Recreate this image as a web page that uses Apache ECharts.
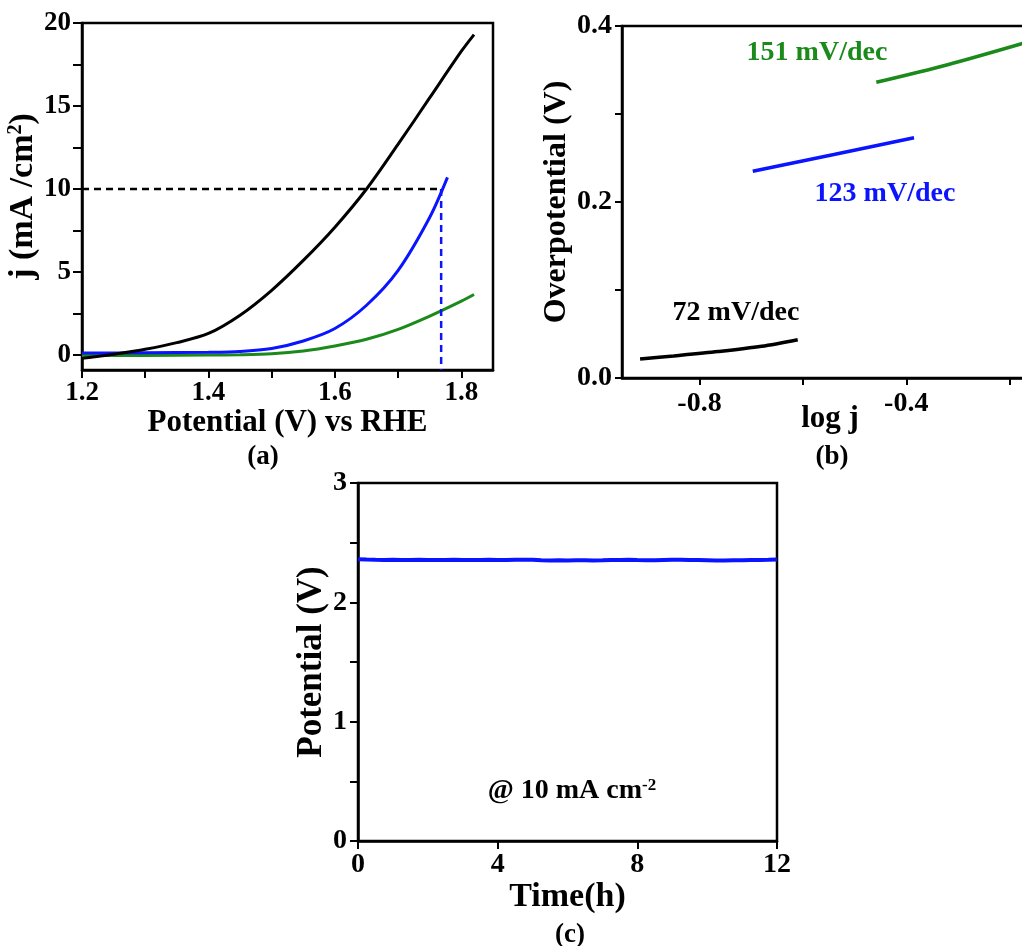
<!DOCTYPE html>
<html>
<head>
<meta charset="utf-8">
<script src="https://cdn.jsdelivr.net/npm/echarts@6/dist/echarts.min.js"></script>
<style>html,body{margin:0;padding:0;background:#fff}#c{width:1022px;height:946px}</style>
</head>
<body>
<div id="c"></div>
<script>
// ---------- Panel (a): LSV curves ----------
const potBlack = [1.20,1.22,1.25,1.30,1.35,1.40,1.45,1.50,1.55,1.60,1.65,1.70,1.75,1.80,1.82];
const jBlack   = [-0.2,-0.1,0.05,0.35,0.75,1.3,2.4,3.9,5.7,7.7,10.0,12.7,15.5,18.3,19.3];
const potBlue  = [1.20,1.30,1.40,1.45,1.50,1.55,1.60,1.65,1.70,1.75,1.778];
const jBlue    = [0.12,0.14,0.17,0.22,0.4,0.85,1.6,3.0,5.1,8.3,10.7];
const potGreen = [1.20,1.30,1.40,1.45,1.50,1.55,1.60,1.65,1.70,1.75,1.80,1.82];
const jGreen   = [-0.03,-0.02,0.0,0.02,0.08,0.25,0.55,0.95,1.55,2.35,3.25,3.65];
const refJ = 10;            // 10 mA/cm2 reference
const refPot = 1.768;       // potential at 10 mA/cm2
const aXTicks = [1.2,1.3,1.4,1.5,1.6,1.7,1.8];
const aXLabels = [1.2,1.4,1.6,1.8];
const aYTicks = [0,2.5,5,7.5,10,12.5,15,17.5,20];
const aYLabels = [0,5,10,15,20];

// ---------- Panel (b): Tafel ----------
const tBlackX = [-0.915,-0.85,-0.764,-0.68,-0.61];
const tBlackY = [0.0215,0.025,0.030,0.036,0.0435];
const tBlueX  = [-0.697,-0.54,-0.385];
const tBlueY  = [0.235,0.254,0.273];
const tGreenX = [-0.458,-0.32,-0.17];
const tGreenY = [0.336,0.356,0.381];
const tafelTexts = ['72 mV/dec','123 mV/dec','151 mV/dec'];
const bXTicks = [-0.8,-0.6,-0.4,-0.2,0];
const bXLabels = [-0.8,-0.4];
const bYTicks = [0,0.1,0.2,0.3,0.4];
const bYLabels = [0,0.2,0.4];

// ---------- Panel (c): stability ----------
const timeH = [0,0.25,0.5,0.75,1,1.25,1.5,1.75,2,2.25,2.5,2.75,3,3.25,3.5,3.75,4,4.25,4.5,4.75,5,5.25,5.5,5.75,6,6.25,6.5,6.75,7,7.25,7.5,7.75,8,8.25,8.5,8.75,9,9.25,9.5,9.75,10,10.25,10.5,10.75,11,11.25,11.5,11.75,12];
const potC = [2.362,2.358,2.356,2.355,2.356,2.355,2.354,2.356,2.355,2.354,2.355,2.356,2.355,2.354,2.355,2.356,2.355,2.354,2.356,2.357,2.356,2.353,2.351,2.352,2.350,2.352,2.353,2.351,2.352,2.354,2.355,2.356,2.354,2.353,2.352,2.354,2.356,2.357,2.355,2.354,2.352,2.350,2.351,2.353,2.352,2.354,2.355,2.356,2.358];
const cYTicks = [0,0.5,1,1.5,2,2.5,3];
const cYLabels = [0,1,2,3];
const cXLabels = [0,4,8,12];

const FONT = 'Liberation Serif';
const BLUE = '#0a14ff', GREEN = '#1b8a1b', BLACK = '#000';

function pairs(xs, ys){ return xs.map((x,i)=>[x, ys[i]]); }

function valueAxis(o){
  return Object.assign({
    type:'value',
    axisLine:{show:true, onZero:false, lineStyle:{color:'#000', width:2.5}},
    axisTick:{show:true, inside:false, length:8, lineStyle:{color:'#000', width:2}},
    splitLine:{show:false},
    axisLabel:{color:'#000', fontFamily:FONT, fontWeight:'bold', fontSize:27},
    nameTextStyle:{color:'#000', fontFamily:FONT, fontWeight:'bold', fontSize:31}
  }, o);
}

const chart = echarts.init(document.getElementById('c'), null, {renderer:'canvas'});
const lineBase = {type:'line', showSymbol:false, symbol:'none', animation:false, z:3};

chart.setOption({
  backgroundColor:'#fff',
  animation:false,
  grid:[
    {left:82, top:23, width:411, height:347, show:true, borderColor:'#000', borderWidth:2.5, backgroundColor:'transparent', outerBoundsMode:'none', containLabel:false},
    {left:622, top:26, width:491, height:352, show:true, borderColor:'#000', borderWidth:2.5, backgroundColor:'transparent', outerBoundsMode:'none', containLabel:false},
    {left:358, top:483, width:419, height:358, show:true, borderColor:'#000', borderWidth:2.5, backgroundColor:'transparent', outerBoundsMode:'none', containLabel:false}
  ],
  xAxis:[
    valueAxis({gridIndex:0, min:1.2, max:1.85,
      axisTick:{show:true, length:8, customValues:aXTicks, lineStyle:{color:'#000', width:2}},
      axisLabel:{color:'#000', fontFamily:FONT, fontWeight:'bold', fontSize:27, margin:10, customValues:aXLabels, formatter:v=>v.toFixed(1)},
      name:'Potential (V) vs RHE', nameLocation:'middle', nameGap:31}),
    valueAxis({gridIndex:1, min:-0.95, max:0,
      axisTick:{show:true, length:7, customValues:bXTicks, lineStyle:{color:'#000', width:2}},
      axisLabel:{color:'#000', fontFamily:FONT, fontWeight:'bold', fontSize:28, margin:12, customValues:bXLabels, formatter:v=>v.toFixed(1)}}),
    valueAxis({gridIndex:2, min:0, max:12,
      axisTick:{show:true, length:8, customValues:cXLabels, lineStyle:{color:'#000', width:2}},
      axisLabel:{color:'#000', fontFamily:FONT, fontWeight:'bold', fontSize:28, margin:10, customValues:cXLabels},
      name:'Time(h)', nameLocation:'middle', nameGap:33,
      nameTextStyle:{color:'#000', fontFamily:FONT, fontWeight:'bold', fontSize:34}})
  ],
  yAxis:[
    valueAxis({gridIndex:0, min:-0.9, max:20,
      axisTick:{show:true, length:9, customValues:aYTicks, lineStyle:{color:'#000', width:2}},
      axisLabel:{color:'#000', fontFamily:FONT, fontWeight:'bold', fontSize:27, margin:11, customValues:aYLabels},
      name:'j (mA /cm{sup|2})', nameLocation:'middle', nameGap:36,
      nameTextStyle:{color:'#000', fontFamily:FONT, fontWeight:'bold', fontSize:34,
        rich:{sup:{fontFamily:FONT, fontWeight:'bold', fontSize:20, verticalAlign:'top', color:'#000'}}}}),
    valueAxis({gridIndex:1, min:0, max:0.4,
      axisTick:{show:true, length:7, customValues:bYTicks, lineStyle:{color:'#000', width:2}},
      axisLabel:{color:'#000', fontFamily:FONT, fontWeight:'bold', fontSize:28, margin:10, customValues:bYLabels, formatter:v=>v.toFixed(1)},
      name:'Overpotential (V)', nameLocation:'middle', nameGap:46,
      nameTextStyle:{color:'#000', fontFamily:FONT, fontWeight:'bold', fontSize:32}}),
    valueAxis({gridIndex:2, min:0, max:3,
      axisTick:{show:true, length:8, customValues:cYTicks, lineStyle:{color:'#000', width:2}},
      axisLabel:{color:'#000', fontFamily:FONT, fontWeight:'bold', fontSize:28, margin:11, customValues:cYLabels},
      name:'Potential (V)', nameLocation:'middle', nameGap:29,
      nameTextStyle:{color:'#000', fontFamily:FONT, fontWeight:'bold', fontSize:35}})
  ],
  series:[
    Object.assign({}, lineBase, {name:'green-a', xAxisIndex:0, yAxisIndex:0, smooth:0.3, data:pairs(potGreen,jGreen), lineStyle:{color:GREEN, width:3}}),
    Object.assign({}, lineBase, {name:'blue-a', xAxisIndex:0, yAxisIndex:0, smooth:0.3, data:pairs(potBlue,jBlue), lineStyle:{color:BLUE, width:3}}),
    Object.assign({}, lineBase, {name:'black-a', xAxisIndex:0, yAxisIndex:0, smooth:0.3, data:pairs(potBlack,jBlack), lineStyle:{color:BLACK, width:3}}),
    Object.assign({}, lineBase, {name:'ref-h', xAxisIndex:0, yAxisIndex:0, data:[[1.2,refJ],[refPot,refJ]], lineStyle:{color:BLACK, width:2.5, type:[7,5]}}),
    Object.assign({}, lineBase, {name:'ref-v', xAxisIndex:0, yAxisIndex:0, data:[[refPot,refJ],[refPot,-0.9]], lineStyle:{color:BLUE, width:2.5, type:[7,5]}}),
    Object.assign({}, lineBase, {name:'black-b', xAxisIndex:1, yAxisIndex:1, smooth:0.3, data:pairs(tBlackX,tBlackY), lineStyle:{color:BLACK, width:3.5}}),
    Object.assign({}, lineBase, {name:'blue-b', xAxisIndex:1, yAxisIndex:1, smooth:0.3, data:pairs(tBlueX,tBlueY), lineStyle:{color:BLUE, width:3.5}}),
    Object.assign({}, lineBase, {name:'green-b', xAxisIndex:1, yAxisIndex:1, smooth:0.3, data:pairs(tGreenX,tGreenY), lineStyle:{color:GREEN, width:3.5}}),
    Object.assign({}, lineBase, {name:'stab', xAxisIndex:2, yAxisIndex:2, data:pairs(timeH,potC), lineStyle:{color:BLUE, width:4}})
  ],
  graphic:[
    {type:'text', x:263, y:457, style:{text:'(a)', font:'bold 27px "Liberation Serif"', fill:'#000', align:'center', verticalAlign:'middle'}},
    {type:'text', x:832, y:457, style:{text:'(b)', font:'bold 27px "Liberation Serif"', fill:'#000', align:'center', verticalAlign:'middle'}},
    {type:'text', x:570, y:935, style:{text:'(c)', font:'bold 27px "Liberation Serif"', fill:'#000', align:'center', verticalAlign:'middle'}},
    {type:'text', x:830, y:419, style:{text:'log j', font:'bold 31px "Liberation Serif"', fill:'#000', align:'center', verticalAlign:'middle'}},
    {type:'text', x:736, y:313, style:{text:tafelTexts[0], font:'bold 28px "Liberation Serif"', fill:'#000', align:'center', verticalAlign:'middle'}},
    {type:'text', x:885, y:194, style:{text:tafelTexts[1], font:'bold 28px "Liberation Serif"', fill:BLUE, align:'center', verticalAlign:'middle'}},
    {type:'text', x:817, y:53, style:{text:tafelTexts[2], font:'bold 28px "Liberation Serif"', fill:GREEN, align:'center', verticalAlign:'middle'}},
    {type:'text', x:572, y:791, style:{text:'@ 10 mA cm{sup|-2}', font:'bold 28px "Liberation Serif"', fill:'#000', align:'center', verticalAlign:'middle',
      rich:{sup:{font:'bold 17px "Liberation Serif"', fill:'#000', verticalAlign:'top'}}}}
  ]
});
</script>
</body>
</html>
